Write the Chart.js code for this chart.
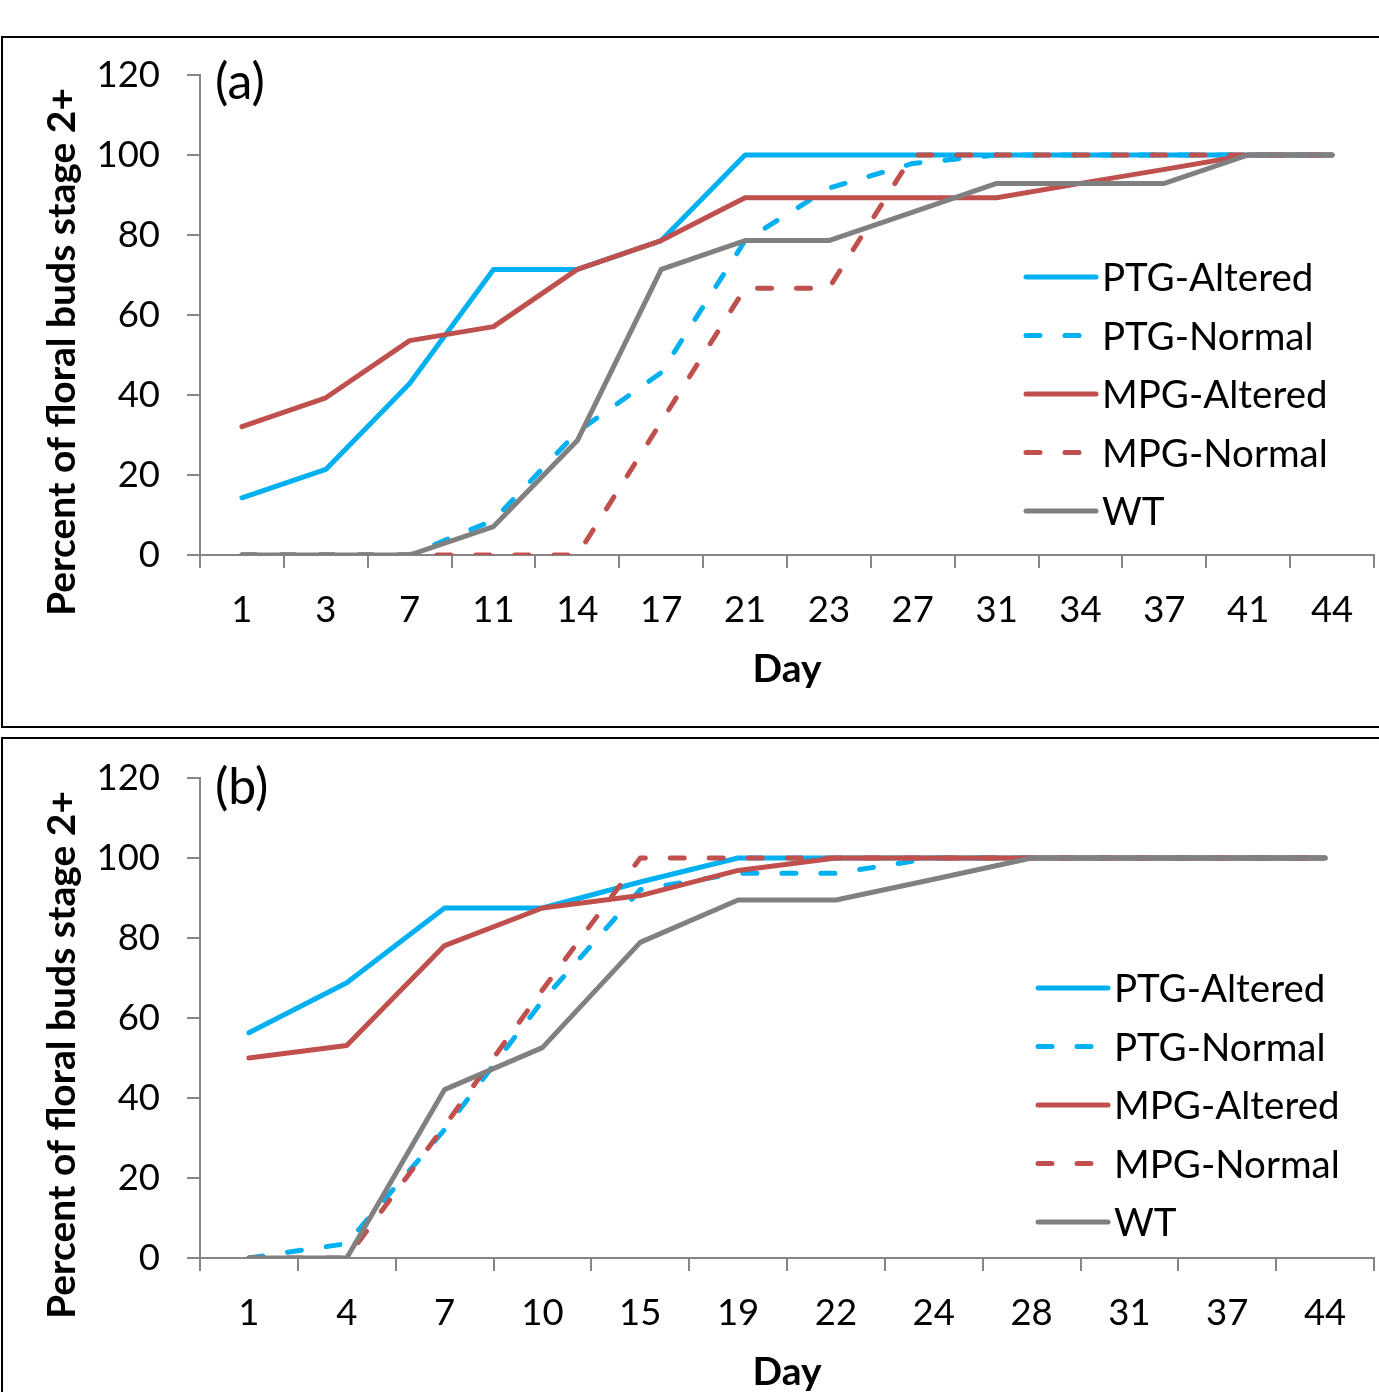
<!DOCTYPE html>
<html>
<head>
<meta charset="utf-8">
<script src="https://cdn.jsdelivr.net/npm/chart.js@4/dist/chart.umd.min.js"></script>
<style>
  html, body { margin: 0; padding: 0; background: #fff; width: 1379px; height: 1392px; overflow: hidden; position: relative; }
  .box { position: absolute; box-sizing: border-box; border: 2px solid #000; }
  #boxA { left: 1px; top: 36px; width: 1420px; height: 692px; }
  #boxB { left: 1px; top: 737px; width: 1420px; height: 700px; }
  #wrapA { position: absolute; left: 0; top: 0; width: 1379px; height: 730px; }
  #wrapB { position: absolute; left: 0; top: 703px; width: 1379px; height: 730px; }
</style>
</head>
<body>
<div class="box" id="boxA"></div>
<div class="box" id="boxB"></div>
<div id="wrapA"><canvas id="chartA" width="1379" height="730"></canvas></div>
<div id="wrapB"><canvas id="chartB" width="1379" height="730"></canvas></div>
<script>
// ---------- Data ----------
const seriesNames = ['PTG-Altered', 'PTG-Normal', 'MPG-Altered', 'MPG-Normal', 'WT'];
const yTickValues = [0, 20, 40, 60, 80, 100, 120];

// Panel (a)
const daysA = ['1', '3', '7', '11', '14', '17', '21', '23', '27', '31', '34', '37', '41', '44'];
const ptgAlteredA = [14.3, 21.4, 42.9, 71.4, 71.4, 78.6, 100, 100, 100, 100, 100, 100, 100, 100];
const ptgNormalA  = [0, 0, 0, 8.7, 30.8, 45.6, 78.6, 91.7, 97.9, 100, 100, 100, 100, 100];
const mpgAlteredA = [32.1, 39.3, 53.6, 57.1, 71.4, 78.6, 89.3, 89.3, 89.3, 89.3, 92.9, 96.4, 100, 100];
const mpgNormalA  = [0, 0, 0, 0, 0, 33.3, 66.7, 66.7, 100, 100, 100, 100, 100, 100];
const wtA         = [0, 0, 0, 7.1, 28.6, 71.4, 78.6, 78.6, 85.7, 92.9, 92.9, 92.9, 100, 100];

// Panel (b)
const daysB = ['1', '4', '7', '10', '15', '19', '22', '24', '28', '31', '37', '44'];
const ptgAlteredB = [56.3, 68.8, 87.5, 87.5, 94.0, 100, 100, 100, 100, 100, 100, 100];
const ptgNormalB  = [0, 3.6, 32.1, 64.3, 92.1, 96.2, 96.2, 100, 100, 100, 100, 100];
const mpgAlteredB = [50, 53.1, 78.1, 87.5, 90.6, 96.9, 100, 100, 100, 100, 100, 100];
const mpgNormalB  = [0, 0, 33.0, 67.0, 100, 100, 100, 100, 100, 100, 100, 100];
const wtB         = [0, 0, 42.1, 52.6, 78.9, 89.5, 89.5, 94.7, 100, 100, 100, 100];

// ---------- Styles ----------
const BLUE = '#00B0F0', RED = '#C0504D', GREY = '#808080', AXIS = '#868686';
const styles = [
  { color: BLUE, dash: [] },
  { color: BLUE, dash: [14, 25] },
  { color: RED, dash: [] },
  { color: RED, dash: [14, 25] },
  { color: GREY, dash: [] }
];
const FONT = 'Lato, "Open Sans", sans-serif';

function makeDatasets(arrs) {
  return arrs.map((d, i) => ({
    label: seriesNames[i],
    data: d,
    borderColor: styles[i].color,
    backgroundColor: styles[i].color,
    borderWidth: 5,
    borderDash: styles[i].dash,
    borderCapStyle: 'round',
    borderJoinStyle: 'round',
    pointRadius: 0,
    pointHoverRadius: 0,
    tension: 0,
    fill: false,
    order: arrs.length - i   // later series drawn on top (like the original)
  }));
}

const decorPlugin = {
  id: 'decor',
  afterDraw(chart, args, opts) {
    const ctx = chart.ctx;
    const ca = chart.chartArea;
    ctx.save();
    // panel label
    ctx.fillStyle = '#000';
    ctx.font = '50px ' + FONT;
    ctx.textAlign = 'left';
    ctx.textBaseline = 'middle';
    ctx.fillText(opts.panel, ca.left + 15, ca.top + opts.panelDy);
    // y axis title
    ctx.save();
    ctx.translate(62, (ca.top + ca.bottom) / 2 + 37);
    ctx.rotate(-Math.PI / 2);
    ctx.font = 'bold 39px ' + FONT;
    ctx.textAlign = 'center';
    ctx.textBaseline = 'middle';
    ctx.fillText('Percent of floral buds stage 2+', 0, 0);
    ctx.restore();
    // legend
    ctx.font = '38.5px ' + FONT;
    ctx.textAlign = 'left';
    ctx.textBaseline = 'alphabetic';
    chart.data.datasets.forEach((ds, i) => {
      const y = opts.legendY + i * 58.5;
      ctx.beginPath();
      ctx.strokeStyle = ds.borderColor;
      ctx.lineWidth = 5;
      ctx.lineCap = 'round';
      ctx.setLineDash(ds.borderDash || []);
      ctx.moveTo(opts.legendX, y);
      ctx.lineTo(opts.legendX + 70, y);
      ctx.stroke();
      ctx.setLineDash([]);
      ctx.fillStyle = '#000';
      ctx.fillText(ds.label, opts.legendX + 76, y + 14);
    });
    ctx.restore();
  }
};

function makeChart(id, labels, arrs, decor) {
  return new Chart(document.getElementById(id), {
    type: 'line',
    data: { labels: labels, datasets: makeDatasets(arrs) },
    plugins: [decorPlugin],
    options: {
      responsive: false,
      animation: false,
      events: [],
      layout: { padding: { left: 0, right: 5, top: 75, bottom: 35 } },
      plugins: {
        legend: { display: false },
        tooltip: { enabled: false },
        decor: decor
      },
      scales: {
        x: {
          type: 'category',
          offset: true,
          grid: { display: true, drawOnChartArea: false, drawTicks: true, tickLength: 13, offset: true, color: AXIS, lineWidth: 2 },
          border: { display: true, color: AXIS, width: 2 },
          ticks: { color: '#000', font: { family: FONT, size: 36.5 }, padding: 20, maxRotation: 0, autoSkip: false },
          title: { display: true, text: 'Day', color: '#000', font: { family: FONT, size: 39, weight: 'bold' }, padding: { top: 0, bottom: 2 } },
          afterFit(scale) { scale.height = 140; }
        },
        y: {
          min: 0, max: 120,
          afterBuildTicks(scale) { scale.ticks = yTickValues.map(v => ({ value: v })); },
          grid: { display: true, drawOnChartArea: false, drawTicks: true, tickLength: 13, color: AXIS, lineWidth: 2 },
          border: { display: true, color: AXIS, width: 2 },
          ticks: { color: '#000', font: { family: FONT, size: 36.5 }, padding: 27 },
          afterFit(scale) { scale.width = 200; }
        }
      }
    }
  });
}

makeChart('chartA', daysA, [ptgAlteredA, ptgNormalA, mpgAlteredA, mpgNormalA, wtA],
  { panel: '(a)', panelDy: 8, legendX: 1026, legendY: 277 });
makeChart('chartB', daysB, [ptgAlteredB, ptgNormalB, mpgAlteredB, mpgNormalB, wtB],
  { panel: '(b)', panelDy: 10, legendX: 1038, legendY: 285 });
</script>
</body>
</html>
